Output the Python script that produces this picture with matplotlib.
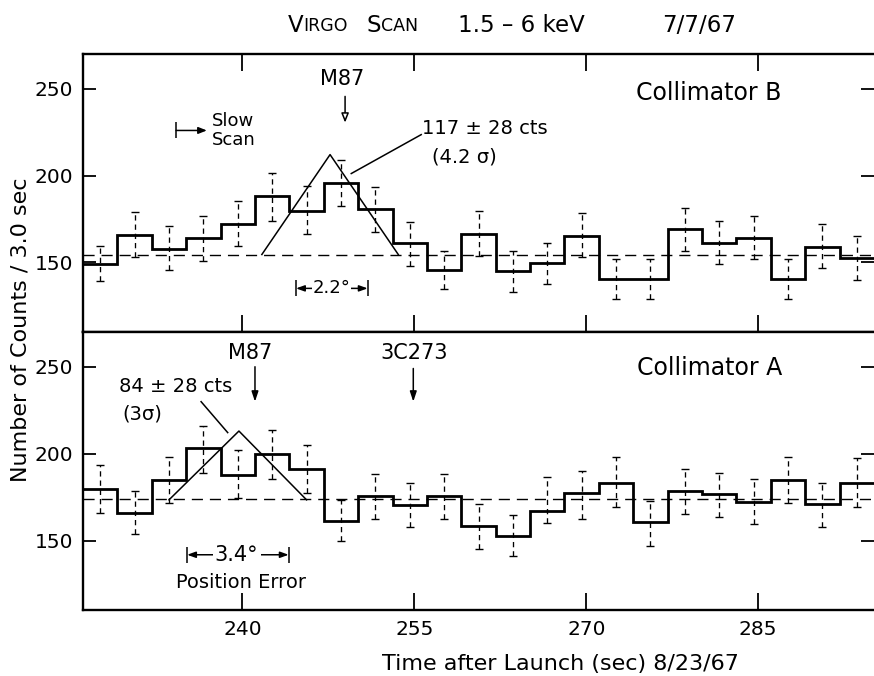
import numpy as np
import matplotlib
matplotlib.use('Agg')
import matplotlib.pyplot as plt

plt.rcParams['font.family'] = ['DejaVu Sans']

# ---- data ----
t_centers = [227.6, 230.6, 233.6, 236.6, 239.6, 242.6, 245.6, 248.6, 251.6, 254.6,
             257.6, 260.6, 263.6, 266.6, 269.6, 272.6, 275.6, 278.6, 281.6, 284.6,
             287.6, 290.6, 293.6]

# Collimator B (top panel)
counts_B = [149.0, 165.7, 157.9, 164.2, 172.2, 188.1, 179.9, 195.8, 180.9, 161.3,
            145.6, 166.5, 145.0, 149.8, 165.5, 140.6, 140.6, 169.4, 161.3, 164.2,
            140.6, 158.8, 152.3]
err_hi_B = [159.4, 178.9, 170.9, 177.0, 185.2, 201.5, 193.9, 209.2, 193.5, 173.2,
            156.5, 179.5, 156.5, 161.3, 178.6, 152.1, 152.0, 181.4, 173.7, 176.6,
            152.1, 172.2, 165.1]
err_lo_B = [139.3, 153.3, 145.6, 151.1, 159.4, 173.7, 166.5, 182.4, 167.4, 147.9,
            134.9, 153.6, 132.9, 137.9, 153.3, 128.7, 128.7, 156.5, 148.9, 152.1,
            128.7, 147.0, 140.2]
background_B = 154.2
model_B_t = [241.7, 247.65, 253.6]
model_B_v = [154.6, 212.1, 154.6]

# Collimator A (bottom panel)
counts_A = [179.5, 166.1, 184.9, 203.1, 187.8, 199.7, 191.2, 161.5, 175.7, 170.5,
            175.8, 158.4, 152.7, 167.2, 177.2, 183.0, 160.6, 178.6, 176.7, 172.4,
            184.9, 170.9, 183.3]
err_hi_A = [193.5, 178.7, 198.3, 215.9, 202.1, 213.6, 205.0, 173.4, 188.3, 183.0,
            188.0, 171.1, 164.4, 186.4, 190.2, 197.9, 173.0, 191.0, 189.1, 185.3,
            198.3, 183.0, 197.4]
err_lo_A = [166.1, 153.7, 171.8, 188.7, 174.4, 185.3, 177.2, 150.0, 162.3, 157.7,
            162.4, 145.2, 140.8, 160.0, 162.5, 169.5, 147.0, 165.3, 163.4, 159.6,
            171.8, 157.7, 169.2]
background_A = 173.7
model_A_t = [233.6, 239.7, 245.6]
model_A_v = [173.4, 213.0, 173.4]

x_ticks = [240, 255, 270, 285]
y_ticks = [150, 200, 250]

# ---- figure ----
W, H = 874, 676
fig = plt.figure(figsize=(W / 100, H / 100), dpi=100)
axB = fig.add_axes([0.095, 0.5089, 0.905, 0.4112])
axA = fig.add_axes([0.095, 0.0976, 0.905, 0.4113], sharex=axB)

c = np.array(t_centers)
edges = np.concatenate([[c[0] - (c[1] - c[0]) / 2], (c[:-1] + c[1:]) / 2,
                        [c[-1] + (c[-1] - c[-2]) / 2]])


def panel(ax, vals, hi, lo, bg, mt, mv):
    vals = np.array(vals); hi = np.array(hi); lo = np.array(lo)
    ax.stairs(vals, edges, color='k', lw=2.0, baseline=None, zorder=3)
    eb = ax.errorbar(c, vals, yerr=[vals - lo, hi - vals], fmt='none', ecolor='k',
                     elinewidth=0.95, capsize=3, capthick=1.0, zorder=2)
    eb[2][0].set_linestyle((0, (4, 3)))
    ax.axhline(bg, color='k', lw=1.0, ls=(0, (8, 5)), zorder=1)
    ax.plot(mt, mv, color='k', lw=1.1, zorder=2)
    ax.set_xlim(edges[0], edges[-1])
    ax.set_ylim(110, 270)
    ax.set_xticks(x_ticks)
    ax.set_yticks(y_ticks)
    ax.tick_params(axis='both', direction='in', width=1.3, labelsize=14.5, pad=7)
    ax.tick_params(axis='x', length=12)
    ax.tick_params(axis='y', length=9.5, right=True)
    ax.spines['right'].set_visible(False)
    for s in ['left', 'top', 'bottom']:
        ax.spines[s].set_linewidth(1.7)


panel(axB, counts_B, err_hi_B, err_lo_B, background_B, model_B_t, model_B_v)
panel(axA, counts_A, err_hi_A, err_lo_A, background_A, model_A_t, model_A_v)
axB.tick_params(axis='x', top=True, labelbottom=False)
axA.tick_params(axis='x', top=False)

# ---- annotations: top panel ----
axB.text(248.72, 255.7, 'M87', ha='center', va='center', fontsize=15)
axB.annotate('', xy=(248.96, 230.5), xytext=(248.96, 245.6),
             arrowprops=dict(arrowstyle='-|>,head_length=0.55,head_width=0.22', lw=1.1,
                             fc='white', ec='k', shrinkA=0, shrinkB=0))
axB.text(280.64, 247.7, 'Collimator B', ha='center', va='center', fontsize=17)
axB.text(255.7, 227.0, '117 ± 28 cts', ha='left', va='center', fontsize=14)
axB.text(256.5, 210.9, '(4.2 σ)', ha='left', va='center', fontsize=14)
axB.plot([249.5, 255.6], [201.2, 223.6], color='k', lw=1.1)

# slow scan marker
axB.plot([234.22], [226.0], marker='|', ms=11, mew=1.1, color='k')
axB.annotate('', xy=(236.9, 226.0), xytext=(234.22, 226.0),
             arrowprops=dict(arrowstyle='-|>,head_length=0.5,head_width=0.2', lw=1.1,
                             color='k', shrinkA=0, shrinkB=0))
axB.text(237.3, 226.0, 'Slow\nScan', ha='left', va='center', fontsize=13, linespacing=1.05)

# 2.2 deg bar
axB.annotate('', xy=(244.68, 135.1), xytext=(250.93, 135.1),
             arrowprops=dict(arrowstyle='<|-|>,head_length=0.5,head_width=0.18', lw=1.1,
                             color='k', shrinkA=0, shrinkB=0))
axB.plot([244.68, 250.93], [135.1, 135.1], ls='none', marker='|', ms=11, mew=1.1, color='k')
axB.text(247.8, 135.1, '2.2°', ha='center', va='center', fontsize=13,
         bbox=dict(fc='white', ec='none', pad=0.5))

# ---- annotations: bottom panel ----
axA.text(240.7, 257.9, 'M87', ha='center', va='center', fontsize=15)
axA.annotate('', xy=(241.1, 229.9), xytext=(241.1, 250.0),
             arrowprops=dict(arrowstyle='-|>,head_length=0.6,head_width=0.2', lw=1.1,
                             color='k', shrinkA=0, shrinkB=0))
axA.text(254.95, 257.9, '3C273', ha='center', va='center', fontsize=15)
axA.annotate('', xy=(254.91, 229.9), xytext=(254.91, 249.0),
             arrowprops=dict(arrowstyle='-|>,head_length=0.6,head_width=0.2', lw=1.1,
                             color='k', shrinkA=0, shrinkB=0))
axA.text(280.77, 249.0, 'Collimator A', ha='center', va='center', fontsize=17)
axA.text(229.2, 238.5, '84 ± 28 cts', ha='left', va='center', fontsize=14)
axA.text(229.5, 222.8, '(3σ)', ha='left', va='center', fontsize=14)
axA.plot([236.4, 238.72], [229.9, 212.1], color='k', lw=1.1)

axA.annotate('', xy=(235.18, 141.8), xytext=(244.04, 141.8),
             arrowprops=dict(arrowstyle='<|-|>,head_length=0.5,head_width=0.18', lw=1.1,
                             color='k', shrinkA=0, shrinkB=0))
axA.plot([235.18, 244.04], [141.8, 141.8], ls='none', marker='|', ms=11, mew=1.1, color='k')
axA.text(239.5, 141.8, '3.4°', ha='center', va='center', fontsize=15,
         bbox=dict(fc='white', ec='none', pad=1.5))
axA.text(239.9, 125.7, 'Position Error', ha='center', va='center', fontsize=14)

# ---- axis labels ----
fig.text(21 / W, 1 - 329.5 / H, 'Number of Counts / 3.0 sec', rotation=90,
         ha='center', va='center', fontsize=16)
fig.text(560 / W, 1 - 664 / H, 'Time after Launch (sec) 8/23/67',
         ha='center', va='center', fontsize=16)

# ---- title with small caps ----
BIG, SMALL = 16.5, 12.5


def title_group(x_px, parts):
    prev = None
    for txt, size in parts:
        if prev is None:
            prev = fig.text(x_px / W, 1 - 31.5 / H, txt, fontsize=size,
                            ha='left', va='baseline')
        else:
            dy = 0.95 if size == SMALL else 0.0
            prev = axB.annotate(txt, xy=(1, 0), xycoords=prev, xytext=(0, dy),
                                textcoords='offset points', fontsize=size,
                                ha='left', va='bottom', annotation_clip=False)


title_group(288, [('V', BIG), ('IRGO', SMALL)])
title_group(366.7, [('S', BIG), ('CAN', SMALL)])
title_group(458, [('1.5 – 6 keV', BIG)])
title_group(662, [('7/7/67', BIG)])

fig.savefig('out.png', dpi=100)
